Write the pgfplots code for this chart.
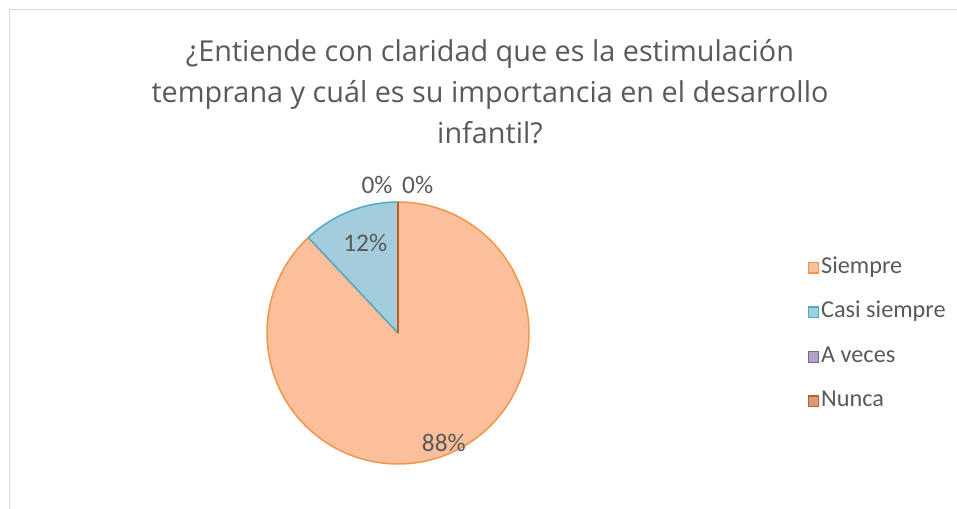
\documentclass[border=0pt]{standalone}
\usepackage{pgfplots}
\pgfplotsset{compat=1.18}
\usepackage{fontspec}
\setmainfont{Carlito}
\newfontfamily\titlefont{Open Sans}
\definecolor{txt}{HTML}{595959}
\definecolor{frame}{HTML}{D9D9D9}
\definecolor{sfill}{HTML}{FBBF9B}
\definecolor{sdraw}{HTML}{F0954A}
\definecolor{cfill}{HTML}{A3CDDC}
\definecolor{cdraw}{HTML}{4BACC6}
\definecolor{afill}{HTML}{B3A2C7}
\definecolor{adraw}{HTML}{8064A2}
\definecolor{nfill}{HTML}{D99A80}
\definecolor{ndraw}{HTML}{C0601E}
\def\vS{88}
\def\vC{12}
\def\vA{0}
\def\vN{0}
\begin{document}
\begin{tikzpicture}[x=0.75pt,y=0.75pt]
\pgfmathsetmacro\aS{90-3.6*\vS}
\pgfmathsetmacro\aC{\aS-3.6*\vC}
\path[use as bounding box] (0,0) rectangle (957,509);
\draw[frame, line width=1.1pt] (9.5,0) -- (9.5,499.5) -- (957,499.5);
\node[font=\titlefont\fontsize{21.6}{30.75}\selectfont, text=txt, align=center] at (490,417)
  {¿Entiende con claridad que es la estimulación\\temprana y cuál es su importancia en el desarrollo\\infantil?};
\begin{axis}[at={(298.5pt,132pt)}, anchor=center, scale only axis,
  width=196.5pt, height=196.5pt, xmin=-1, xmax=1, ymin=-1, ymax=1,
  hide axis, clip=false,
  legend style={draw=none, fill=none, at={(2.062,0.494)}, anchor=west,
    font=\fontsize{18.2}{21}\selectfont, text=txt, cells={anchor=west},
    row sep=15.4pt, inner sep=0pt, nodes={inner sep=1pt, text height=12pt, text depth=4pt},
    /tikz/every odd column/.append style={column sep=0.3pt}},
  legend image code/.code={\draw[#1,line width=0.9pt] (0pt,-4pt) rectangle (8pt,4pt);}]
\addlegendimage{fill=sfill,draw=sdraw}
\addlegendimage{fill=cfill,draw=cdraw}
\addlegendimage{fill=afill,draw=adraw}
\addlegendimage{fill=nfill,draw=ndraw}
\legend{Siempre, Casi siempre, A veces, Nunca}
\addplot[forget plot, fill=sfill, draw=sdraw, line width=1.1pt, line join=round,
  domain=90:\aS, samples=240] ({cos(x)},{sin(x)}) -- (axis cs:0,0) -- cycle;
\addplot[forget plot, fill=cfill, draw=cdraw, line width=1.1pt, line join=round,
  domain=\aS:\aC, samples=60] ({cos(x)},{sin(x)}) -- (axis cs:0,0) -- cycle;
\addplot[forget plot, draw=adraw, line width=1.1pt] coordinates {(0,0) (0,1)};
\addplot[forget plot, draw=ndraw, line width=1.1pt] coordinates {(0,0) (0,1)};
\node[font=\fontsize{19}{20}\selectfont, text=txt] at (axis cs:0.35,-0.84) {88\%};
\node[font=\fontsize{19}{20}\selectfont, text=txt] at (axis cs:-0.25,0.69) {12\%};
\node[font=\fontsize{19}{20}\selectfont, text=txt] at (axis cs:-0.16,1.13) {0\%};
\node[font=\fontsize{19}{20}\selectfont, text=txt] at (axis cs:0.15,1.13) {0\%};
\end{axis}
\end{tikzpicture}
\end{document}
